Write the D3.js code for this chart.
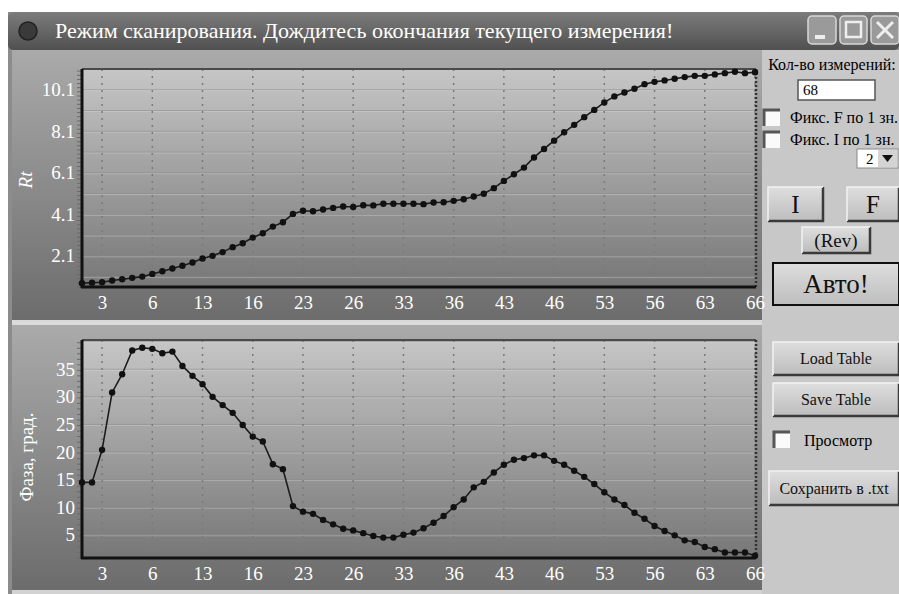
<!doctype HTML>
<html>
<head>
<meta charset="utf-8">
<script src="https://d3js.org/d3.v7.min.js"></script>
<style>
  body { margin: 0; background: #fff; }
</style>
</head>
<body>
<script>
    // measurement index 0..67 (68 points)
    var rtValues = [0.78,0.81,0.83,0.91,0.97,1.04,1.10,1.23,1.36,1.49,1.62,1.78,1.97,2.10,2.28,2.52,2.71,2.98,3.19,3.51,
        3.72,4.12,4.27,4.25,4.33,4.41,4.48,4.45,4.54,4.53,4.61,4.61,4.61,4.61,4.59,4.67,4.68,4.75,4.83,4.96,
        5.09,5.36,5.71,6.03,6.35,6.84,7.25,7.65,8.05,8.41,8.78,9.13,9.49,9.78,9.97,10.15,10.37,10.48,10.55,10.63,
        10.71,10.77,10.77,10.84,10.90,10.97,10.90,10.94];
    var phaseValues = [14.5,14.5,20.4,30.8,34.1,38.4,38.9,38.7,37.9,38.2,35.6,33.8,32.3,30.0,28.5,27.1,24.9,22.8,21.9,17.8,
        16.9,10.2,9.2,8.8,7.7,6.9,6.1,5.8,5.3,4.8,4.5,4.5,5.0,5.4,6.2,7.2,8.4,10.0,11.4,13.6,
        14.6,16.3,17.7,18.6,18.9,19.4,19.4,18.4,17.7,16.6,15.5,14.2,12.7,11.4,10.4,9.0,7.9,6.6,5.7,4.9,
        4.0,3.7,2.8,2.4,1.8,1.8,1.8,1.2];
    var xTickIndex = [2,7,12,17,22,27,32,37,42,47,52,57,62,67];
    var xTickLabels = ["3","6","13","16","23","26","33","36","43","46","53","56","63","66"];
    var rtTicks = [2.1,4.1,6.1,8.1,10.1];
    var rtGrid = [1.1,2.1,3.1,4.1,5.1,6.1,7.1,8.1,9.1,10.1];
    var phaseTicks = [5,10,15,20,25,30,35];
    var phaseGrid = [5,10,15,20,25,30,35,40];

    var titleText = "Режим сканирования. Дождитесь окончания текущего измерения!";
    var serif = "'Liberation Serif', 'Times New Roman', serif";

    var svg = d3.select("body").append("svg")
        .attr("width", 899)
        .attr("height", 594)
        .attr("font-family", serif);

    var defs = svg.append("defs");
    function grad(id, c1, c2) {
        var g = defs.append("linearGradient").attr("id", id)
            .attr("x1", 0).attr("y1", 0).attr("x2", 0).attr("y2", 1);
        g.append("stop").attr("offset", "0%").attr("stop-color", c1);
        g.append("stop").attr("offset", "100%").attr("stop-color", c2);
    }
    grad("titleGrad", "#7c7c7c", "#505050");
    grad("panelGrad", "#aaaaaa", "#6c6c6c");
    grad("plotGrad", "#c6c6c6", "#777777");
    grad("btnGrad", "#dedede", "#bdbdbd");

    // window frame
    svg.append("rect").attr("x", 8).attr("y", 12).attr("width", 891).attr("height", 582)
        .attr("fill", "#8c8c8c");
    svg.append("rect").attr("x", 8).attr("y", 12).attr("width", 891).attr("height", 38)
        .attr("rx", 5).attr("fill", "url(#titleGrad)");
    svg.append("circle").attr("cx", 28).attr("cy", 31).attr("r", 9)
        .attr("fill", "#3a3a3a").attr("stroke", "#222").attr("stroke-width", 1.5);
    svg.append("text").attr("x", 55).attr("y", 38)
        .attr("fill", "#fff").attr("font-size", "22px").text(titleText);

    // title bar buttons
    var winBtns = [{x: 808, w: 28}, {x: 840, w: 27}, {x: 871, w: 28}];
    svg.selectAll(".wbtn").data(winBtns).enter().append("rect")
        .attr("class", "wbtn")
        .attr("x", function(d) { return d.x; }).attr("y", 16)
        .attr("width", function(d) { return d.w; }).attr("height", 28)
        .attr("rx", 4).attr("fill", "#9a9a9a").attr("stroke", "#d8d8d8").attr("stroke-width", 1.5);
    svg.append("rect").attr("x", 815).attr("y", 35).attr("width", 10).attr("height", 4).attr("fill", "#eee");
    svg.append("rect").attr("x", 846).attr("y", 22).attr("width", 15).attr("height", 15)
        .attr("fill", "none").attr("stroke", "#eee").attr("stroke-width", 2.5);
    svg.append("path").attr("d", "M877,22 L893,38 M893,22 L877,38")
        .attr("stroke", "#eee").attr("stroke-width", 3);

    // right control panel
    svg.append("rect").attr("x", 762).attr("y", 50).attr("width", 137).attr("height", 544)
        .attr("fill", "#c8c8c8");

    // bottom light strip
    svg.append("rect").attr("x", 12).attr("y", 590).attr("width", 750).attr("height", 4)
        .attr("fill", "#d2d2d2");

    function drawChart(cfg) {
        var g = svg.append("g");
        g.append("rect").attr("x", 12).attr("y", cfg.panelTop).attr("width", 750).attr("height", cfg.panelH)
            .attr("fill", "url(#panelGrad)");

        var x = d3.scaleLinear().domain([0, 67]).range([82, 755]);
        var y = d3.scaleLinear().domain(cfg.yDomain).range([cfg.bottom, cfg.top]);

        g.append("rect").attr("x", 82).attr("y", cfg.top).attr("width", 673).attr("height", cfg.bottom - cfg.top)
            .attr("fill", "url(#plotGrad)");

        // horizontal grid
        g.selectAll(".hg").data(cfg.grid).enter().append("line")
            .attr("x1", 82).attr("x2", 755)
            .attr("y1", function(d) { return y(d); }).attr("y2", function(d) { return y(d); })
            .attr("stroke", "#8a8a8a").attr("stroke-opacity", 0.55).attr("stroke-width", 1);
        g.selectAll(".hg2").data(cfg.grid).enter().append("line")
            .attr("x1", 82).attr("x2", 755)
            .attr("y1", function(d) { return y(d) + 1; }).attr("y2", function(d) { return y(d) + 1; })
            .attr("stroke", "#dcdcdc").attr("stroke-opacity", 0.35).attr("stroke-width", 1);

        // vertical dotted grid
        g.selectAll(".vg").data(xTickIndex).enter().append("line")
            .attr("x1", function(d) { return x(d); }).attr("x2", function(d) { return x(d); })
            .attr("y1", cfg.top).attr("y2", cfg.bottom)
            .attr("stroke", "#7a7a7a").attr("stroke-width", 1.5).attr("stroke-dasharray", "2,5");

        // minor ticks along the left axis
        g.selectAll(".mt").data(d3.range(cfg.yDomain[0], cfg.yDomain[1], cfg.minorStep)).enter().append("line")
            .attr("x1", 77).attr("x2", 82)
            .attr("y1", function(d) { return y(d); }).attr("y2", function(d) { return y(d); })
            .attr("stroke", "#6a6a6a").attr("stroke-width", 1);

        // plot frame
        g.append("line").attr("x1", 82).attr("x2", 756).attr("y1", cfg.top).attr("y2", cfg.top)
            .attr("stroke", "#4a4a4a").attr("stroke-width", 2);
        g.append("line").attr("x1", 756).attr("x2", 756).attr("y1", cfg.top).attr("y2", cfg.bottom)
            .attr("stroke", "#333").attr("stroke-width", 2.5).attr("stroke-dasharray", "2,2");
        g.append("line").attr("x1", 82).attr("x2", 82).attr("y1", cfg.top).attr("y2", cfg.bottom + 1)
            .attr("stroke", "#111").attr("stroke-width", 3);
        g.append("line").attr("x1", 81).attr("x2", 756).attr("y1", cfg.bottom).attr("y2", cfg.bottom)
            .attr("stroke", "#111").attr("stroke-width", 3);

        // axes labels
        var xAxis = g.append("g").attr("transform", "translate(0," + (cfg.bottom + 3) + ")")
            .call(d3.axisBottom(x).tickValues(xTickIndex).tickSize(0).tickPadding(6)
                .tickFormat(function(d, i) { return xTickLabels[i]; }));
        var yAxis = g.append("g").attr("transform", "translate(76,0)")
            .call(d3.axisLeft(y).tickValues(cfg.ticks).tickSize(0).tickPadding(1)
                .tickFormat(cfg.fmt));
        [xAxis, yAxis].forEach(function(a) {
            a.attr("font-family", serif);
            a.select(".domain").remove();
            a.selectAll("text").attr("fill", "#fff").style("font-size", "19px");
        });

        g.append("text")
            .attr("transform", "translate(" + cfg.labelX + "," + cfg.labelY + ") rotate(-90)")
            .attr("text-anchor", "middle")
            .attr("fill", "#fff").attr("font-size", "19px")
            .attr("font-style", cfg.italic ? "italic" : "normal")
            .text(cfg.label);

        // series
        var line = d3.line().x(function(d, i) { return x(i); }).y(function(d) { return y(d); });
        g.append("path").datum(cfg.values).attr("d", line)
            .attr("fill", "none").attr("stroke", "#1c1c1c").attr("stroke-width", 1.6);
        g.selectAll(".pt").data(cfg.values).enter().append("circle")
            .attr("cx", function(d, i) { return x(i); })
            .attr("cy", function(d) { return y(d); })
            .attr("r", 3.2).attr("fill", "#111");
    }

    drawChart({
        panelTop: 50, panelH: 271, top: 69, bottom: 287,
        yDomain: [0.6, 11.1], ticks: rtTicks, grid: rtGrid, minorStep: 0.2,
        fmt: d3.format(".1f"), values: rtValues,
        label: "Rt", italic: true, labelX: 32, labelY: 180
    });
    // separator
    svg.append("rect").attr("x", 12).attr("y", 320).attr("width", 750).attr("height", 5)
        .attr("fill", "#dadada");
    drawChart({
        panelTop: 325, panelH: 265, top: 340, bottom: 558,
        yDomain: [0.8, 40.3], ticks: phaseTicks, grid: phaseGrid, minorStep: 1,
        fmt: d3.format("d"), values: phaseValues,
        label: "Фаза, град.", italic: false, labelX: 33, labelY: 457
    });

    // controls
    var ctl = svg.append("g");
    ctl.append("text").attr("x", 832).attr("y", 70).attr("text-anchor", "middle")
        .attr("font-size", "16px").attr("fill", "#000").text("Кол-во измерений:");
    ctl.append("rect").attr("x", 798).attr("y", 80).attr("width", 77).attr("height", 20)
        .attr("fill", "#fff").attr("stroke", "#555").attr("stroke-width", 1.5);
    ctl.append("text").attr("x", 803).attr("y", 95).attr("font-size", "15px").text("68");

    var checks = [
        {x: 764, y: 110, tx: 790, ty: 123, label: "Фикс. F по 1 зн."},
        {x: 764, y: 132, tx: 790, ty: 145, label: "Фикс. I по 1 зн."},
        {x: 774, y: 432, tx: 804, ty: 446, label: "Просмотр"}
    ];
    checks.forEach(function(c) {
        ctl.append("rect").attr("x", c.x).attr("y", c.y).attr("width", 16).attr("height", 16)
            .attr("fill", "#fafafa");
        ctl.append("path").attr("d", "M" + (c.x + 16) + "," + c.y + " L" + c.x + "," + c.y + " L" + c.x + "," + (c.y + 16))
            .attr("fill", "none").attr("stroke", "#555").attr("stroke-width", 3);
        ctl.append("text").attr("x", c.tx).attr("y", c.ty)
            .attr("font-size", "16px").text(c.label);
    });

    // dropdown
    ctl.append("rect").attr("x", 857).attr("y", 149).attr("width", 41).attr("height", 19)
        .attr("fill", "#fff").attr("stroke", "#888");
    ctl.append("text").attr("x", 866).attr("y", 164).attr("font-size", "15px").text("2");
    ctl.append("rect").attr("x", 878).attr("y", 150).attr("width", 19).attr("height", 17).attr("fill", "#d4d4d4");
    ctl.append("path").attr("d", "M882,155 L893,155 L887.5,162 Z").attr("fill", "#111");

    var buttons = [
        {x: 768, y: 187, w: 55, h: 34, label: "I", size: 25},
        {x: 847, y: 187, w: 52, h: 34, label: "F", size: 25},
        {x: 802, y: 227, w: 68, h: 26, label: "(Rev)", size: 19},
        {x: 773, y: 263, w: 126, h: 42, label: "Авто!", size: 27, bold: true},
        {x: 773, y: 342, w: 126, h: 33, label: "Load Table", size: 16},
        {x: 773, y: 383, w: 126, h: 33, label: "Save Table", size: 16},
        {x: 769, y: 471, w: 130, h: 34, label: "Сохранить в .txt", size: 16}
    ];
    buttons.forEach(function(b) {
        ctl.append("rect").attr("x", b.x).attr("y", b.y).attr("width", b.w).attr("height", b.h)
            .attr("fill", "url(#btnGrad)")
            .attr("stroke", b.bold ? "#111" : "none").attr("stroke-width", 2);
        if (!b.bold) {
            ctl.append("path")
                .attr("d", "M" + b.x + "," + (b.y + b.h) + " L" + (b.x + b.w) + "," + (b.y + b.h) + " L" + (b.x + b.w) + "," + b.y)
                .attr("fill", "none").attr("stroke", "#3a3a3a").attr("stroke-width", 2.5);
            ctl.append("path")
                .attr("d", "M" + b.x + "," + (b.y + b.h) + " L" + b.x + "," + b.y + " L" + (b.x + b.w) + "," + b.y)
                .attr("fill", "none").attr("stroke", "#f2f2f2").attr("stroke-width", 1.5);
        }
        ctl.append("text").attr("x", b.x + b.w / 2).attr("y", b.y + b.h / 2)
            .attr("dy", "0.35em").attr("text-anchor", "middle")
            .attr("font-size", b.size + "px").attr("fill", "#111").text(b.label);
    });
</script>
</body>
</html>
